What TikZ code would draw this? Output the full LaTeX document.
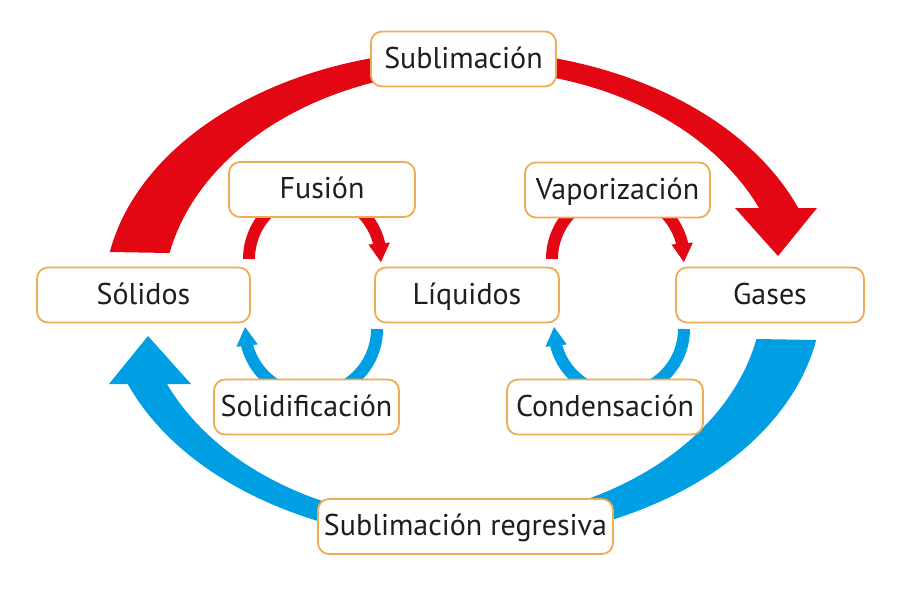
\documentclass[tikz,border=0pt]{standalone}
\usepackage{fontspec}
\setmainfont{PT Sans}
\usetikzlibrary{arrows.meta,bending}
\definecolor{redA}{RGB}{227,6,19}
\definecolor{blueA}{RGB}{0,159,227}
\definecolor{boxline}{RGB}{238,172,84}
\definecolor{txt}{RGB}{30,30,30}
\tikzset{
  stbox/.style={draw=boxline, line width=1.8pt, fill=white, rounded corners=11pt,
    minimum height=55pt, inner sep=0pt, text height=21pt, text depth=3pt,
    text=txt, font=\fontsize{30}{35}\selectfont},
  smallarc/.style={line width=12pt, -{Triangle[width=20pt,length=19pt,flex]}},
}
\begin{document}
\begin{tikzpicture}[x=1pt,y=-1pt]
\useasboundingbox[fill=white] (0,0) rectangle (910,590);

% big red band (Sublimacion)
\fill[redA] (110,252)
  -- plot[domain=190.3:339.04, samples=100] ({463+359*cos(\x)},{296+246*sin(\x)})
  -- (817,208) -- (778,256) -- (735,208)
  -- plot[domain=336.42:191.79, samples=100] ({474+311*cos(\x)},{300+230*sin(\x)})
  -- cycle;

% big blue band (Sublimacion regresiva): point mirror of the red one
\begin{scope}[rotate around={180:(463,296)}]
\fill[blueA] (110,252)
  -- plot[domain=190.3:339.04, samples=100] ({463+359*cos(\x)},{296+246*sin(\x)})
  -- (817,208) -- (778,256) -- (735,208)
  -- plot[domain=336.42:191.79, samples=100] ({474+311*cos(\x)},{300+230*sin(\x)})
  -- cycle;
\end{scope}

% small arcs
\draw[smallarc, draw=redA] (249,259) arc[start angle=180, end angle=363, radius=66];
\draw[smallarc, draw=redA] (552,259) arc[start angle=180, end angle=363, radius=66];
\draw[smallarc, draw=blueA] (377,329) arc[start angle=0, end angle=182, radius=66];
\draw[smallarc, draw=blueA] (684,329) arc[start angle=0, end angle=182, radius=65];

% nodes
\node[stbox, minimum width=185pt] (subl) at (463.5,59) {Sublimación};
\node[stbox, minimum width=186pt] (fus) at (322,189.5) {Fusión};
\node[stbox, minimum width=185pt] (vap) at (617.5,190) {Vaporización};
\node[stbox, minimum width=213pt] (sol) at (143.5,295) {Sólidos};
\node[stbox, minimum width=184pt] (liq) at (467,295) {Líquidos};
\node[stbox, minimum width=188pt] (gas) at (770,295) {Gases};
\node[stbox, minimum width=185pt] (solid) at (306.5,407) {Solidificación};
\node[stbox, minimum width=196pt] (cond) at (605,407) {Condensación};
\node[stbox, minimum width=295pt] (subr) at (465.5,526.5) {Sublimación regresiva};
\end{tikzpicture}
\end{document}
